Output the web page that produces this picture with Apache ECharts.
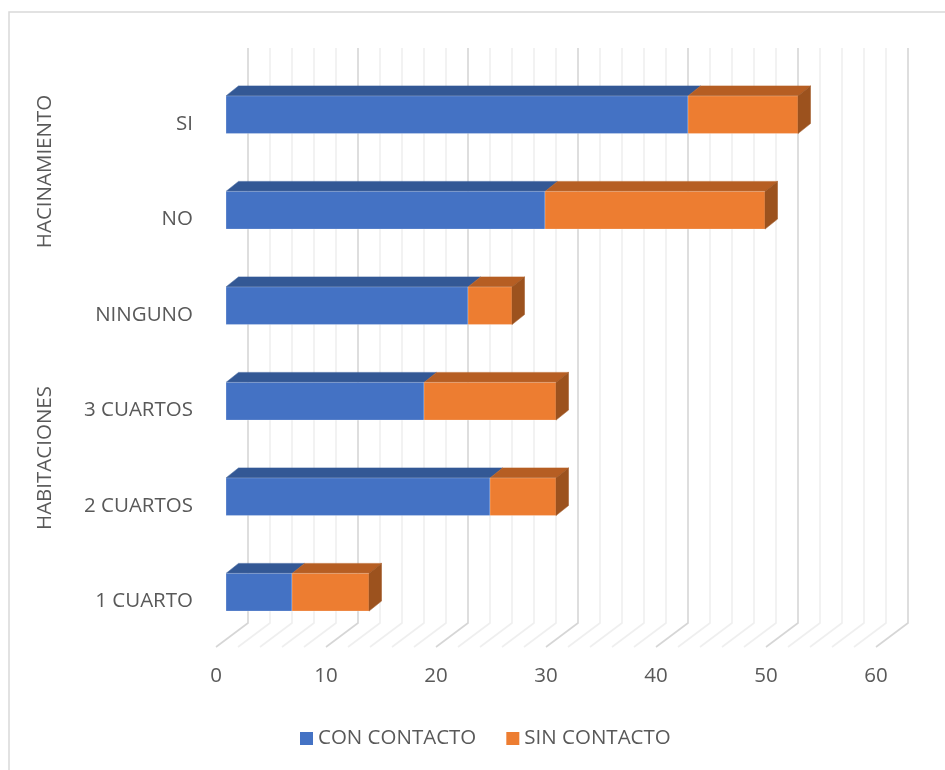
<!DOCTYPE html>
<html><head><meta charset="utf-8">
<script src="https://cdn.jsdelivr.net/npm/echarts@6/dist/echarts.min.js"></script>
<style>html,body{margin:0;padding:0;background:#fff}#c{width:945px;height:770px}</style>
</head><body><div id="c"></div>
<script>
// ---- data ----
const categories = ['1 CUARTO', '2 CUARTOS', '3 CUARTOS', 'NINGUNO', 'NO', 'SI'];
const conContacto = [6, 24, 18, 22, 29, 42];
const sinContacto = [7, 6, 12, 4, 20, 10];
const seriesNames = ['CON CONTACTO', 'SIN CONTACTO'];
const groupNames = ['HABITACIONES', 'HACINAMIENTO'];
const groupFirst = [0, 4];
const groupLast = [3, 5];
const xTickLabels = ['0', '10', '20', '30', '40', '50', '60'];
const gridTicks = [0,2,4,6,8,10,12,14,16,18,20,22,24,26,28,30,32,34,36,38,40,42,44,46,48,50,52,54,56,58,60];

// ---- style ----
const FONT = 'Open Sans';
const FS = 20.5;
const TXT = '#595959';
const DX = 12.5, DY = 10;           // bar depth offset
const BACK_DX = 22, BACK_DY = -17;  // back wall offset
const FRONT_DX = -10, FRONT_DY = 7; // front plane offset
const BLUE = {front: '#4472C4', top: '#335895', side: '#2f5597'};
const ORANGE = {front: '#ED7D31', top: '#B65E23', side: '#9C521E'};

function barRender(colors, withSide) {
  return function (params, api) {
    const i = api.value(0), s = api.value(1), e = api.value(2);
    const p0 = api.coord([s, i]);
    const p1 = api.coord([e, i]);
    const bh = api.size([0, 1])[1] * 0.395;
    const yT = p0[1] - bh / 2, yB = p0[1] + bh / 2;
    const x0 = p0[0], x1 = p1[0];
    const children = [
      {type: 'polygon', shape: {points: [[x0, yT], [x1, yT], [x1 + DX, yT - DY], [x0 + DX, yT - DY]]},
       style: {fill: colors.top, stroke: colors.top, lineWidth: 0.5}},
      {type: 'rect', shape: {x: x0, y: yT, width: x1 - x0, height: bh},
       style: {fill: colors.front, stroke: 'rgba(255,255,255,0.25)', lineWidth: 1}}
    ];
    if (withSide) {
      children.push({type: 'polygon', shape: {points: [[x1, yT], [x1 + DX, yT - DY], [x1 + DX, yB - DY], [x1, yB]]},
        style: {fill: colors.side, stroke: colors.side, lineWidth: 0.5}});
    }
    return {type: 'group', children};
  };
}

function gridRender(params, api) {
  const v = api.value(0);
  const cs = params.coordSys;
  const x = api.coord([v, 0])[0];
  const major = v % 10 === 0;
  const bx = x + BACK_DX, top = cs.y + BACK_DY - 2, floorBack = cs.y + cs.height + BACK_DY;
  const fx = x + FRONT_DX, fy = cs.y + cs.height + FRONT_DY;
  return {
    type: 'polyline',
    shape: {points: [[bx, top], [bx, floorBack], [fx, fy]]},
    style: {stroke: major ? '#d6d6d6' : '#efefef', lineWidth: 1.6, fill: null}
  };
}

const conData = categories.map((c, i) => [i, 0, conContacto[i]]);
const sinData = categories.map((c, i) => [i, conContacto[i], conContacto[i] + sinContacto[i]]);

const chart = echarts.init(document.getElementById('c'));
chart.setOption({
  backgroundColor: '#fff',
  animation: false,
  grid: [
    {left: 226, top: 67, width: 660, height: 573},
    {left: 216, top: 76, width: 660, height: 573}
  ],
  xAxis: [
    {gridIndex: 0, type: 'value', min: 0, max: 60, show: false},
    {gridIndex: 1, type: 'value', min: 0, max: 60, interval: 10,
     axisLine: {show: false}, axisTick: {show: false}, splitLine: {show: false},
     axisLabel: {color: TXT, fontFamily: FONT, fontSize: FS, margin: 17,
       formatter: (v) => xTickLabels[v / 10]}}
  ],
  yAxis: [
    {gridIndex: 0, type: 'category', data: categories, show: false},
    {gridIndex: 1, type: 'category', data: categories,
     axisLine: {show: false}, axisTick: {show: false}, splitLine: {show: false},
     axisLabel: {color: TXT, fontFamily: FONT, fontSize: FS, margin: 23}}
  ],
  legend: {
    data: seriesNames, left: 295, top: 723, icon: 'rect', itemWidth: 13, itemHeight: 13, itemGap: 30,
    textStyle: {color: TXT, fontFamily: FONT, fontSize: FS}
  },
  series: [
    {type: 'custom', name: 'grid', xAxisIndex: 0, yAxisIndex: 0, silent: true, z: 1,
     data: gridTicks.map(v => [v]), encode: {x: 0}, renderItem: gridRender},
    {type: 'custom', name: seriesNames[0], xAxisIndex: 0, yAxisIndex: 0, z: 2,
     itemStyle: {color: BLUE.front}, data: conData, encode: {x: [1, 2], y: 0},
     renderItem: barRender(BLUE, false)},
    {type: 'custom', name: seriesNames[1], xAxisIndex: 0, yAxisIndex: 0, z: 3,
     itemStyle: {color: ORANGE.front}, data: sinData, encode: {x: [1, 2], y: 0},
     renderItem: barRender(ORANGE, true)}
  ]
});

const graphics = [
  {type: 'rect', shape: {x: 9, y: 12, width: 960, height: 790}, style: {fill: null, stroke: '#d9d9d9', lineWidth: 1.5}, silent: true}
];
groupNames.forEach((g, k) => {
  const yA = chart.convertToPixel({yAxisIndex: 1}, categories[groupFirst[k]]);
  const yB = chart.convertToPixel({yAxisIndex: 1}, categories[groupLast[k]]);
  graphics.push({type: 'text', x: 45, y: (yA + yB) / 2, rotation: Math.PI / 2, silent: true,
    style: {text: g, fill: TXT, font: FS + 'px "' + FONT + '"', align: 'center', verticalAlign: 'middle'}});
});
chart.setOption({graphic: graphics});
</script>
</body></html>
